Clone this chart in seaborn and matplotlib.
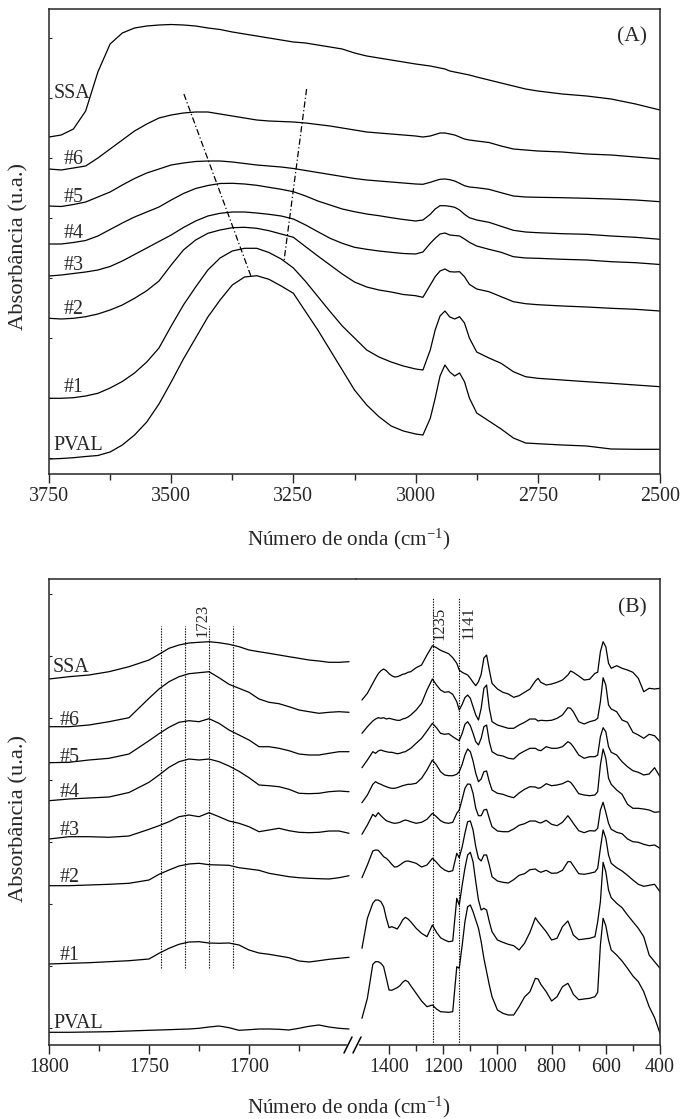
import numpy as np
import pandas as pd
import matplotlib
matplotlib.use("Agg")
import matplotlib.pyplot as plt
from matplotlib.lines import Line2D
import seaborn as sns

sns.set_style("ticks")
plt.rcParams['font.family'] = ['Liberation Serif', 'DejaVu Serif']
plt.rcParams['mathtext.fontset'] = 'custom'
plt.rcParams['mathtext.rm'] = 'Liberation Serif'
plt.rcParams['mathtext.it'] = 'Liberation Serif:italic'
plt.rcParams['axes.linewidth'] = 1.1

samples = ['SSA', '#6', '#5', '#4', '#3', '#2', '#1', 'PVAL']

# ---- panel A: 3750-2500 cm-1 (stacked, arbitrary units)
wn_a = [3750, 3725, 3700, 3675, 3650, 3625, 3600, 3575, 3550, 3525, 3500, 3475, 3450,
        3425, 3400, 3375, 3350, 3325, 3300, 3275, 3250, 3225, 3200, 3175, 3150, 3125,
        3100, 3075, 3050, 3025, 3000, 2985, 2970, 2960, 2950, 2940, 2930, 2920, 2910,
        2900, 2890, 2875, 2850, 2825, 2800, 2775, 2750, 2700, 2650, 2600, 2550, 2500]
a_ssa = [321, 323, 329, 347, 386, 414, 425, 430, 432, 433, 433.5, 433, 432, 430, 428.5, 426,
         424, 422, 420, 418, 416, 415, 413, 411, 409, 405, 402, 400, 398, 396, 394, 393, 392,
         391, 390, 389, 387, 386, 385, 384, 383, 381, 378, 375, 372, 369, 367, 364, 362, 359,
         354, 348]
a_s6 = [289, 288, 290, 292, 300, 309, 318, 327, 334, 340, 343, 345, 346, 346, 344, 342, 340,
        338, 337, 336.5, 336, 335, 333.5, 332, 330, 328, 326, 325, 324, 323, 322, 321, 322,
        323.5, 325, 325, 324, 323, 321, 319, 318, 317, 315.5, 312, 309, 308, 307, 306, 304,
        303, 301, 299]
a_s5 = [252, 251.5, 253.5, 256, 261, 266, 273, 279.5, 285, 289, 293, 295, 296.5, 297, 297,
        296, 294.5, 293, 292, 291, 289.5, 287.5, 285.5, 283.5, 281.5, 279.5, 278, 277, 276,
        275, 274, 273.7, 275.7, 277.3, 278.7, 279, 278.3, 277, 274.7, 272.3, 271, 270.3,
        268.7, 265.3, 262, 261, 260.7, 260.3, 259.7, 259, 258, 256.3]
a_s4 = [214, 214, 215.5, 217.5, 222, 228.5, 235, 241, 246, 251, 258, 264.5, 269.5, 272.5,
        274.5, 274.7, 274, 272.7, 270.7, 268.7, 266.3, 262, 257, 253, 249, 246.3, 244, 242.3,
        240.3, 238.5, 237, 238, 243.7, 249, 252.3, 252.3, 251.7, 250.7, 248, 243.7, 240.3,
        238, 235.7, 231.7, 227.7, 226, 225.3, 224.3, 223.7, 222, 220.7, 218.7]
a_s3 = [182, 183, 184.5, 186, 188, 191.5, 197, 203.5, 210, 216.5, 223, 230.5, 237, 242,
        244.7, 246, 246, 245, 243.7, 242, 239, 233, 226.3, 219.7, 214.7, 210.7, 208.7, 207,
        205.7, 204.5, 204, 206, 214.7, 219.7, 224, 225, 223, 222.5, 222, 219, 215.7, 212,
        208.7, 205.7, 201.3, 200, 199.7, 198.7, 198, 196.3, 195.3, 193.5]
a_s2 = [139.7, 139, 139.7, 141.3, 144, 148, 153, 159.7, 167.3, 177, 193, 208, 218, 224.7,
        228, 230.3, 230.7, 229.7, 227.3, 224, 220.7, 211.3, 202, 193, 184, 176, 171, 168, 166,
        163.5, 162.3, 160.7, 173, 181.3, 187, 189, 186.3, 186, 186.3, 181.3, 173.7, 169,
        166.3, 161.3, 156.3, 154.3, 153.3, 152, 151, 149.7, 148.7, 147]
a_s1 = [59.7, 59.7, 60.3, 62, 64.7, 70, 76.5, 85, 96, 110, 132, 153, 171, 188, 200, 207,
        209.7, 209.7, 205.5, 199, 190, 176.5, 161.5, 146.5, 132, 120, 108, 101, 96, 92, 89,
        88, 108, 128, 142, 147, 141, 139, 141.3, 135, 120, 106, 100, 94.7, 86.3, 81.3, 79.7,
        78, 76.3, 74.7, 73, 71.3]
a_pval = [-1, -0.5, 0.3, 1.5, 2.5, 6, 13, 23, 36, 54, 76, 99, 120, 141, 158, 173, 181, 182.3,
          178.7, 172, 164.7, 146.3, 128, 108, 88, 68, 53, 41.3, 32, 27, 24, 23, 39.7, 59.7,
          82, 93, 86, 82, 85, 76.3, 60, 45, 37, 29, 20, 15, 14.3, 13, 12, 9, 8.7, 8.7]
# band-shift guides (wavenumber, absorbance)
guide1_wn, guide1_abs = [3474, 3337], [364, 182]
guide2_wn, guide2_abs = [3223, 3269], [369, 198]

# ---- panel B, left part: 1800-1650 cm-1
wn_bl = [1800, 1790, 1780, 1770, 1760, 1750, 1745, 1740, 1735, 1730, 1725, 1720, 1715,
         1710, 1705, 1700, 1695, 1690, 1685, 1680, 1675, 1670, 1665, 1660, 1655, 1650]
bl_ssa = [349, 351.3, 353, 356.3, 361.3, 368, 373.7, 379.7, 383, 385, 385.7, 386.3, 385.3,
          383.7, 381.3, 378, 376.3, 374.7, 373, 371.3, 369.7, 368, 367, 365.7, 365.7, 366.3]
bl_s6 = [301.3, 301.3, 303, 306.3, 310.3, 329.7, 339, 346.3, 351.3, 354.3, 355.3, 356.3,
         350.3, 343.7, 339.7, 335.7, 329, 325.7, 324.3, 321.3, 318, 316.3, 314.7, 315.7,
         316.3, 315.7]
bl_s5 = [265.3, 265.7, 268, 269.7, 274, 287.3, 294.3, 300.7, 305.7, 307.3, 306.3, 309.3,
         304.7, 298, 293, 288, 281.3, 281.3, 279.7, 277.3, 274, 273, 273, 274.7, 276.3, 276.3]
bl_s4 = [227.3, 229, 230, 231, 235.5, 245.7, 253, 260.7, 266.3, 269, 268, 269, 266.3, 262,
         256.7, 250.3, 243, 242.3, 241.3, 238.7, 234.7, 234.3, 234.7, 236.3, 237, 236.3]
bl_s3 = [189, 191.3, 191.3, 190.7, 192, 198.7, 202.3, 206.3, 211.3, 213, 211.3, 215.3, 211.3,
         207, 204.7, 201.3, 196.3, 198, 199.7, 197.3, 195.7, 195.3, 195.7, 197, 197, 194.7]
bl_s2 = [142.3, 142.3, 143, 143.7, 144.7, 148, 153.7, 158, 162, 164, 164.7, 163.3, 163,
         162.7, 160.3, 159, 157.7, 154.7, 153, 151.3, 150.3, 149.7, 149.3, 149, 150.3, 152.3]
bl_s1 = [64, 64.7, 65.3, 66.3, 67.3, 69, 74.7, 79.7, 83.7, 86, 86.3, 85, 84.7, 85, 83, 78,
         75, 73.7, 72, 70.3, 67, 66, 67.3, 68.7, 69.7, 70.7]
bl_pval = [-4.3, -4.3, -4, -3.7, -3, -2.3, -2, -1.7, -1.3, -1, -0.3, 1, 2, 0.3, -2.3, -1.7,
           -1, -1, -1.3, -2, -0.3, 1.7, 3, 1, -0.3, -1]
bl_marks = [1744, 1732, 1720, 1708]

# ---- panel B, right part: 1500-400 cm-1
wn_br = [1500, 1480, 1460, 1450, 1440, 1430, 1420, 1410, 1400, 1390, 1380, 1370, 1360, 1350,
         1340, 1330, 1320, 1300, 1280, 1260, 1240, 1225, 1210, 1195, 1180, 1165, 1150, 1141,
         1130, 1120, 1110, 1100, 1090, 1080, 1070, 1060, 1050, 1040, 1030, 1020, 1000, 980,
         960, 940, 920, 900, 880, 860, 850, 840, 820, 800, 780, 760, 740, 730, 720, 700, 680,
         660, 640, 630, 620, 610, 600, 590, 580, 560, 540, 520, 500, 480, 460, 440, 420, 400]
br_ssa = [328, 334.7, 344.7, 349.7, 354.3, 357.3, 359, 357.3, 354.3, 352.3, 351, 351.3, 352.3,
          353.7, 354.3, 355.7, 356.3, 360.3, 363, 373, 382.3, 380.3, 377.7, 376, 374.3, 370.3,
          364.7, 358, 355.7, 354.3, 353, 349.7, 345.7, 342.3, 346.3, 353.7, 370, 373, 358,
          344.7, 339, 335.7, 334, 330.7, 332.3, 335.7, 339, 347, 349.7, 345.7, 343, 344,
          345.7, 348, 353, 357, 355.7, 352, 348, 348.7, 354.7, 355.7, 376.3, 386.3, 381.3,
          364.7, 359.7, 362.3, 359.7, 358, 355.7, 349.7, 336.3, 339.7, 339, 339.7]
br_s6 = [294.7, 301.3, 307, 309, 310.3, 309.7, 310.3, 309, 309.7, 309, 308.3, 307.7, 307.7,
         309, 309.7, 311, 313, 318, 324.7, 338, 349, 343, 338, 335.7, 336.3, 333.7, 326.3, 318,
         323.7, 330.3, 333, 329.7, 321.3, 313, 308, 319.7, 339.7, 343, 319.7, 306.3, 303,
         301.3, 299.7, 299.7, 303, 305.7, 309, 309, 307, 307.7, 307.3, 307.7, 309.7, 313,
         320.3, 319.7, 316.3, 306.3, 304, 306.3, 307.7, 309.7, 326.3, 350.3, 343, 323, 319,
         316.3, 308, 305.7, 295.7, 293, 289.7, 293.7, 292.3, 286.3]
br_s5 = [260.3, 268, 276.3, 274.7, 277, 278, 277, 276.3, 275.7, 275.7, 275, 274.3, 274.7,
         275.7, 276.3, 278, 279.7, 284.7, 289.7, 297, 304.7, 300.3, 294.7, 293.7, 294.3, 291.3,
         288.7, 287.3, 294.7, 303.7, 306.3, 302.3, 294.7, 286.3, 283, 289.7, 301.3, 303,
         286.3, 276.3, 273, 272, 269.7, 269, 274, 277, 279.7, 279.7, 278, 277.3, 281.3, 279.7,
         279.7, 281.3, 286.3, 284.7, 281.3, 273, 269.7, 271.3, 271.3, 273, 291.3, 300.3,
         296.3, 281.3, 275.7, 273, 266.3, 261.3, 257.3, 255.7, 253, 254, 260.3, 251.3]
br_s4 = [225.3, 233, 243.7, 246.3, 244.7, 243.7, 242.3, 241.3, 240.3, 239.7, 239.7, 240.3,
         241.3, 242.3, 243, 243.7, 243.7, 244.7, 249.7, 258, 268, 263, 256.3, 253, 252.3,
         252.3, 253.7, 256.3, 263.7, 273, 279, 276.3, 267, 254.7, 246.3, 249, 256.3, 257,
         246.3, 238, 234.7, 233.7, 231.7, 230.3, 235, 238.7, 241.3, 241, 239.7, 240.3, 244.3,
         242.3, 243, 244.3, 247, 245.7, 242.3, 234.3, 233, 232.3, 233, 236.3, 263, 279, 269.7,
         249.7, 243.7, 238, 233.7, 223.7, 219.7, 219.7, 219, 218, 215.7, 216.3]
br_s3 = [193.7, 203, 213.7, 211.3, 215.3, 212.3, 209.7, 207.3, 206.3, 205.3, 204.7, 205,
         205.7, 207, 208, 207.3, 206.3, 204.7, 205.7, 208.7, 214.7, 211.3, 207.3, 205.3,
         204.7, 205.7, 214.7, 218, 229, 239.7, 244, 243.7, 234.7, 219.7, 212.3, 212.3, 218,
         218.7, 209.7, 201.3, 197, 196.3, 196.3, 199, 202.7, 204.3, 207, 207, 205.7, 205,
         207.7, 203.7, 202.3, 205.7, 212.3, 208.7, 204.7, 197.3, 195.3, 197.3, 197, 199.7,
         218, 225.7, 215.7, 204.7, 198.7, 195.7, 194.3, 189, 186.3, 185.7, 183.7, 182.3, 183,
         179.7]
br_s2 = [150.3, 163, 177, 178, 177.7, 174.7, 171.3, 169.7, 167, 163.7, 161, 161.3, 163, 165,
         166.7, 167, 166.3, 164.7, 161, 163, 169.7, 165.7, 161, 158, 156.3, 157.3, 174.7,
         170.3, 181.3, 194.7, 206.3, 207, 198, 181.3, 169.7, 167, 173, 173, 163, 151.3, 147,
         145.7, 145, 148.3, 152.7, 154.3, 158.3, 159, 157, 155.7, 157.7, 154.7, 155, 157.7,
         166.3, 166.3, 162.3, 154.3, 153.7, 154.7, 156, 159.7, 179.7, 198, 189.7, 173, 164.7,
         160.3, 157, 152.7, 148, 143.7, 141.7, 142.7, 143.7, 136.3]
br_s1 = [79.7, 109.7, 124.7, 128, 128, 126.3, 121.3, 109.7, 100.3, 101.3, 100.3, 99, 103, 108,
         110.7, 109, 106.3, 99.7, 94.7, 91.3, 103, 95.7, 90.3, 88, 86.3, 87, 129.7, 123, 143,
         159.7, 173, 175.7, 166.3, 146.3, 128, 118, 119.7, 118, 106.3, 96.3, 88, 85.7, 83.7,
         82.3, 78, 84.7, 95.7, 110.3, 106.3, 103, 96.3, 88, 89.7, 101.3, 107, 100.3, 93, 88.3,
         89, 89.7, 91.3, 106.3, 126.3, 165.7, 156.3, 138, 130.3, 124.7, 120.3, 113, 106.3,
         99.7, 91.3, 73, 66.3, 59.7]
br_pval = [9.7, 29.7, 63.7, 66.3, 66.3, 64.7, 61.3, 49.7, 38, 37.7, 39, 40.3, 42.3, 45.7,
           47.7, 46.3, 42.3, 34.7, 27, 21.3, 23, 19, 16.3, 16, 15.7, 16.3, 61.3, 59.7, 83,
           106.3, 121.3, 123, 116.3, 108, 99.7, 86.3, 69.7, 56.3, 43, 31.3, 18, 14.7, 13, 13,
           21.3, 31, 36.3, 49.7, 49, 43.7, 36.3, 27, 31.3, 41.3, 44.7, 39.7, 33.7, 28.3, 29,
           29.7, 31.3, 35.7, 83, 109.7, 102.3, 88, 78, 73, 67, 59.7, 52, 46.3, 36.3, 21.3,
           10.3, -5.3]
br_marks = [1238, 1141]


def long_table(wn, series):
    return pd.DataFrame({
        'wn': np.tile(wn, len(series)),
        'absorb': np.concatenate(series),
        'amostra': np.repeat(samples, len(wn)),
    })


df_a = long_table(wn_a, [a_ssa, a_s6, a_s5, a_s4, a_s3, a_s2, a_s1, a_pval])
df_bl = long_table(wn_bl, [bl_ssa, bl_s6, bl_s5, bl_s4, bl_s3, bl_s2, bl_s1, bl_pval])
df_br = long_table(wn_br, [br_ssa, br_s6, br_s5, br_s4, br_s3, br_s2, br_s1, br_pval])

TICK_FS = 14.4
LABEL_FS = 15.2
YLABEL_FS = 16.2
W, H = 685, 1119

fig = plt.figure(figsize=(W / 100, H / 100), dpi=100)


def box(x0, y0, x1, y1):
    # pixel box -> figure fraction rectangle
    return [x0 / W, 1 - y1 / H, (x1 - x0) / W, (y1 - y0) / H]


def style_x(ax):
    ax.tick_params(axis='x', which='major', direction='out', length=6.5, width=1.0,
                   labelsize=TICK_FS, pad=2.5, top=False)
    ax.tick_params(axis='x', which='minor', direction='out', length=4.5, width=1.0, top=False)
    ax.set_xlabel('')
    ax.set_ylabel('')


def style_y(ax, ticks):
    ax.set_yticks(ticks)
    ax.tick_params(axis='y', direction='in', length=2.5, width=0.8, labelleft=False, right=False)


# ---------------- panel A
ax_a = fig.add_axes(box(49, 9, 660, 474))
sns.lineplot(data=df_a, x='wn', y='absorb', units='amostra', estimator=None, color='black',
             linewidth=0.9, ax=ax_a, legend=False)
ax_a.plot(guide1_wn, guide1_abs, color='black', lw=0.9, ls=(0, (5, 2, 1, 2)))
ax_a.plot(guide2_wn, guide2_abs, color='black', lw=0.9, ls=(0, (5, 2, 1, 2)))
ax_a.set_xlim(3750, 2500)
ax_a.set_ylim(-16, 449)
ax_a.set_xticks([3750, 3500, 3250, 3000, 2750, 2500])
ax_a.set_xticks([3625, 3375, 3125, 2875, 2625], minor=True)
style_x(ax_a)
style_y(ax_a, np.arange(0, 421, 60))
ax_a.set_ylabel('Absorbância (u.a.)', fontsize=YLABEL_FS)
ax_a.yaxis.set_label_coords(-21 / 611, 0.489)
ax_a.text(0.954, 0.941, '(A)', transform=ax_a.transAxes, ha='center', va='center', fontsize=15.5)

lab_a = [('SSA', 3741, 364.7), ('#6', 3721, 299), ('#5', 3721, 260.5), ('#4', 3721, 224.7),
         ('#3', 3721, 192), ('#2', 3721, 149), ('#1', 3721, 70.5), ('PVAL', 3741, 12.2)]
for name, x, y in lab_a:
    ax_a.text(x, y, name, ha='left', va='center', fontsize=TICK_FS)

fig.text(349 / W, 1 - 545 / H, r'Número de onda (cm$^{-1}$)', ha='center', va='baseline',
         fontsize=LABEL_FS)

# ---------------- panel B
ax_bl = fig.add_axes(box(49, 579, 356, 1045))
ax_br = fig.add_axes(box(356, 579, 660, 1045))
sns.lineplot(data=df_bl, x='wn', y='absorb', units='amostra', estimator=None, color='black',
             linewidth=0.9, ax=ax_bl, legend=False)
sns.lineplot(data=df_br, x='wn', y='absorb', units='amostra', estimator=None, color='black',
             linewidth=0.9, ax=ax_br, legend=False)

ax_bl.vlines(bl_marks, 60, 402, colors='black', lw=0.8, linestyles=(0, (1.2, 1.2)))
ax_br.vlines(br_marks, -17, 430, colors='black', lw=0.8, linestyles=(0, (1.2, 1.2)))

ax_bl.set_xlim(1800, 1646.5)
ax_br.set_xlim(1522, 400)
for ax in (ax_bl, ax_br):
    ax.set_ylim(-17, 449)
ax_bl.set_xticks([1800, 1750, 1700])
ax_bl.set_xticks([1775, 1725, 1675], minor=True)
ax_br.set_xticks([1400, 1200, 1000, 800, 600, 400])
ax_br.set_xticks([1300, 1100, 900, 700, 500], minor=True)
style_x(ax_bl)
style_x(ax_br)
style_y(ax_bl, np.arange(0, 440, 62))
ax_br.tick_params(axis='y', left=False, right=False, labelleft=False)
ax_bl.spines['right'].set_visible(False)
ax_br.spines['left'].set_visible(False)

ax_bl.set_ylabel('Absorbância (u.a.)', fontsize=YLABEL_FS)
ax_bl.yaxis.set_label_coords(-21 / 307, 0.486)
ax_br.text(0.908, 0.938, '(B)', transform=ax_br.transAxes, ha='center', va='center',
           fontsize=15.5)

lab_b = [('SSA', 1798.3, 360), ('#6', 1794.5, 307.2), ('#5', 1794.5, 270.5),
         ('#4', 1794.5, 235.2), ('#3', 1794.5, 197.2), ('#2', 1794.5, 150.5),
         ('#1', 1794.5, 73), ('PVAL', 1798, 4)]
for name, x, y in lab_b:
    ax_bl.text(x, y, name, ha='left', va='center', fontsize=TICK_FS)

ax_bl.text(1723.3, 408, '1723', rotation=90, ha='center', va='center', fontsize=12)
ax_br.text(1213, 405, '1235', rotation=90, ha='center', va='center', fontsize=12)
ax_br.text(1108.5, 405, '1141', rotation=90, ha='center', va='center', fontsize=12)

fig.text(349 / W, 1 - 1113 / H, r'Número de onda (cm$^{-1}$)', ha='center', va='baseline',
         fontsize=LABEL_FS)

# axis break marks
def px_line(x0, y0, x1, y1, **kw):
    fig.add_artist(Line2D([x0 / W, x1 / W], [1 - y0 / H, 1 - y1 / H],
                          transform=fig.transFigure, **kw))

px_line(348, 1045, 357, 1045, color='white', lw=2.5)
px_line(344, 1053, 352, 1037, color='black', lw=1.1)
px_line(353, 1053, 361, 1037, color='black', lw=1.1)

fig.savefig('out.png', dpi=100)
